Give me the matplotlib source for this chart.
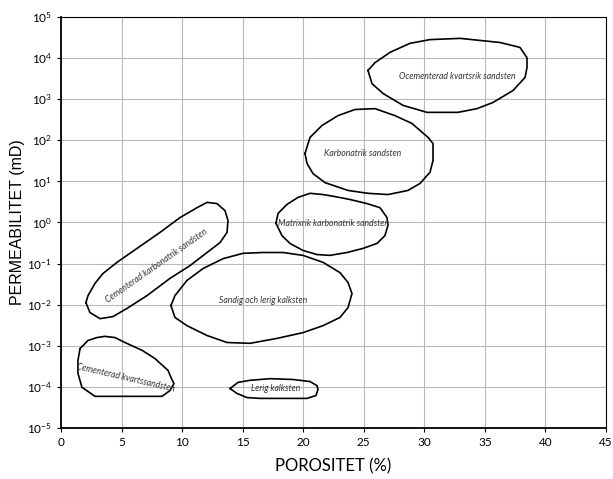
import numpy as np
import matplotlib.pyplot as plt
from matplotlib.ticker import FixedLocator, FuncFormatter

plt.rcParams['mathtext.fontset'] = 'custom'
plt.rcParams['mathtext.rm'] = 'Lato'
plt.rcParams['mathtext.it'] = 'Lato:italic'

NARROW = ['Lato', 'DejaVu Sans']

# outlines of each rock class: porosity (%) and log10 permeability (mD)
ocem_por = [25.35, 25.93, 27.17, 28.82, 30.47, 32.95, 36.25, 37.90, 38.48, 38.48,
            38.32, 37.32, 35.67, 34.35, 32.78, 30.22, 28.24, 26.59, 25.68]
ocem_logk = [3.70, 3.89, 4.14, 4.36, 4.45, 4.48, 4.38, 4.26, 4.01, 3.77,
             3.53, 3.21, 2.92, 2.77, 2.68, 2.68, 2.85, 3.14, 3.38]

karb_por = [20.15, 20.56, 21.55, 22.87, 24.28, 25.93, 27.58, 28.98, 30.31, 30.72,
            30.72, 30.47, 30.22, 29.65, 28.65, 27.00, 25.35, 23.70, 21.80, 20.81, 20.31]
karb_logk = [1.68, 2.07, 2.36, 2.60, 2.75, 2.77, 2.60, 2.41, 2.07, 1.92,
             1.51, 1.22, 1.14, 0.95, 0.78, 0.68, 0.71, 0.78, 0.97, 1.19, 1.44]

matr_por = [17.75, 17.92, 18.66, 19.57, 20.56, 21.63, 22.63, 23.86, 25.27, 26.34,
            26.92, 27.00, 26.75, 26.09, 24.94, 23.62, 22.21, 21.14, 19.98, 18.91, 18.25]
matr_logk = [-0.02, 0.22, 0.44, 0.61, 0.71, 0.68, 0.63, 0.56, 0.46, 0.36,
             0.12, -0.07, -0.32, -0.51, -0.63, -0.73, -0.80, -0.78, -0.68, -0.51, -0.32]

cekb_por = [2.06, 2.23, 2.81, 3.47, 4.62, 6.28, 8.18, 9.83, 11.23, 12.06, 12.88, 13.54,
            13.79, 13.71, 13.13, 12.06, 10.65, 9.00, 7.10, 5.45, 4.29, 3.22, 2.39]
cekb_logk = [-1.95, -1.78, -1.48, -1.24, -0.97, -0.63, -0.24, 0.12, 0.36, 0.49, 0.46, 0.29,
             0.05, -0.24, -0.49, -0.73, -1.05, -1.36, -1.78, -2.09, -2.29, -2.34, -2.19]

sand_por = [9.08, 9.41, 10.40, 11.73, 13.38, 15.03, 16.68, 18.33, 19.98, 21.64, 23.04, 23.70,
            24.03, 23.70, 23.04, 21.64, 19.98, 17.84, 15.61, 13.71, 12.06, 10.40, 9.41]
sand_logk = [-2.02, -1.78, -1.41, -1.12, -0.88, -0.75, -0.73, -0.73, -0.80, -0.97, -1.22, -1.46,
             -1.73, -2.07, -2.31, -2.51, -2.68, -2.82, -2.94, -2.92, -2.75, -2.51, -2.31]

cekv_por = [1.57, 2.23, 2.97, 3.63, 4.46, 5.28, 6.69, 7.76, 8.84, 9.08, 9.33, 9.00,
            8.34, 5.53, 2.81, 1.73, 1.40, 1.40]
cekv_logk = [-3.07, -2.87, -2.80, -2.77, -2.80, -2.92, -3.11, -3.31, -3.60, -3.77, -3.92, -4.09,
             -4.23, -4.23, -4.23, -4.01, -3.67, -3.36]

leri_por = [13.96, 14.62, 15.61, 17.26, 19.16, 20.56, 21.14, 21.22, 21.06, 20.31,
            18.66, 16.43, 15.36, 14.53]
leri_logk = [-4.04, -3.89, -3.84, -3.80, -3.82, -3.87, -3.97, -4.06, -4.21, -4.28,
             -4.28, -4.28, -4.26, -4.16]

names = ['Ocementerad kvartsrik sandsten', 'Karbonatrik sandsten',
         'Matrixrik karbonatrik sandsten', 'Cementerad karbonatrik sandsten',
         'Sandig och lerig kalksten', 'Cementerad kvartssandsten', 'Lerig kalksten']
outlines = [(ocem_por, ocem_logk), (karb_por, karb_logk), (matr_por, matr_logk),
            (cekb_por, cekb_logk), (sand_por, sand_logk), (cekv_por, cekv_logk),
            (leri_por, leri_logk)]
# label anchor (porosity, log10 k) and rotation
label_por = [32.7, 24.9, 22.5, 7.9, 16.7, 5.3, 17.7]
label_logk = [3.55, 1.68, -0.02, -1.05, -1.90, -3.77, -4.04]
label_rot = [0, 0, 0, 35, 0, -13, 0]

fig = plt.figure(figsize=(6.13, 4.79), dpi=100)
ax = fig.add_axes([0.0995, 0.1065, 0.889, 0.858])

for (por, logk) in outlines:
    p = por + por[:1]
    k = 10 ** np.array(logk + logk[:1])
    ax.plot(p, k, color='black', lw=1.2, solid_joinstyle='round', zorder=3)

for name, x, ly, rot in zip(names, label_por, label_logk, label_rot):
    ax.text(x, 10 ** ly, name, ha='center', va='center', rotation=rot,
            rotation_mode='anchor', fontsize=6.2, style='italic',
            family=NARROW, color='#333333', zorder=4)

ax.set_yscale('log')
ax.set_xlim(0, 45)
ax.set_ylim(1e-5, 1e5)
ax.xaxis.set_major_locator(FixedLocator(range(0, 46, 5)))
ax.yaxis.set_major_locator(FixedLocator([10.0 ** e for e in range(-5, 6)]))
ax.yaxis.set_minor_locator(FixedLocator([]))
ax.yaxis.set_major_formatter(FuncFormatter(
    lambda v, pos: r'$10^{%d}$' % round(np.log10(v))))

ax.grid(True, color='#b8b8b8', lw=0.8)
ax.set_axisbelow(True)
ax.tick_params(direction='out', length=3, width=0.8, labelsize=8.5)
for lab in ax.get_xticklabels():
    lab.set_family(NARROW)

for side in ['left', 'bottom']:
    ax.spines[side].set_linewidth(1.3)
for side in ['top', 'right']:
    ax.spines[side].set_linewidth(0.8)

ax.set_xlabel('POROSITET (%)', fontsize=12, family=NARROW)
ax.xaxis.set_label_coords(0.5, -0.075)
ax.set_ylabel('PERMEABILITET (mD)', fontsize=11.5,
              family=['Liberation Sans', 'DejaVu Sans'])
ax.yaxis.label.set_va('center')
ax.yaxis.set_label_coords(-0.079, 0.5)

fig.savefig('out.png', dpi=100)
